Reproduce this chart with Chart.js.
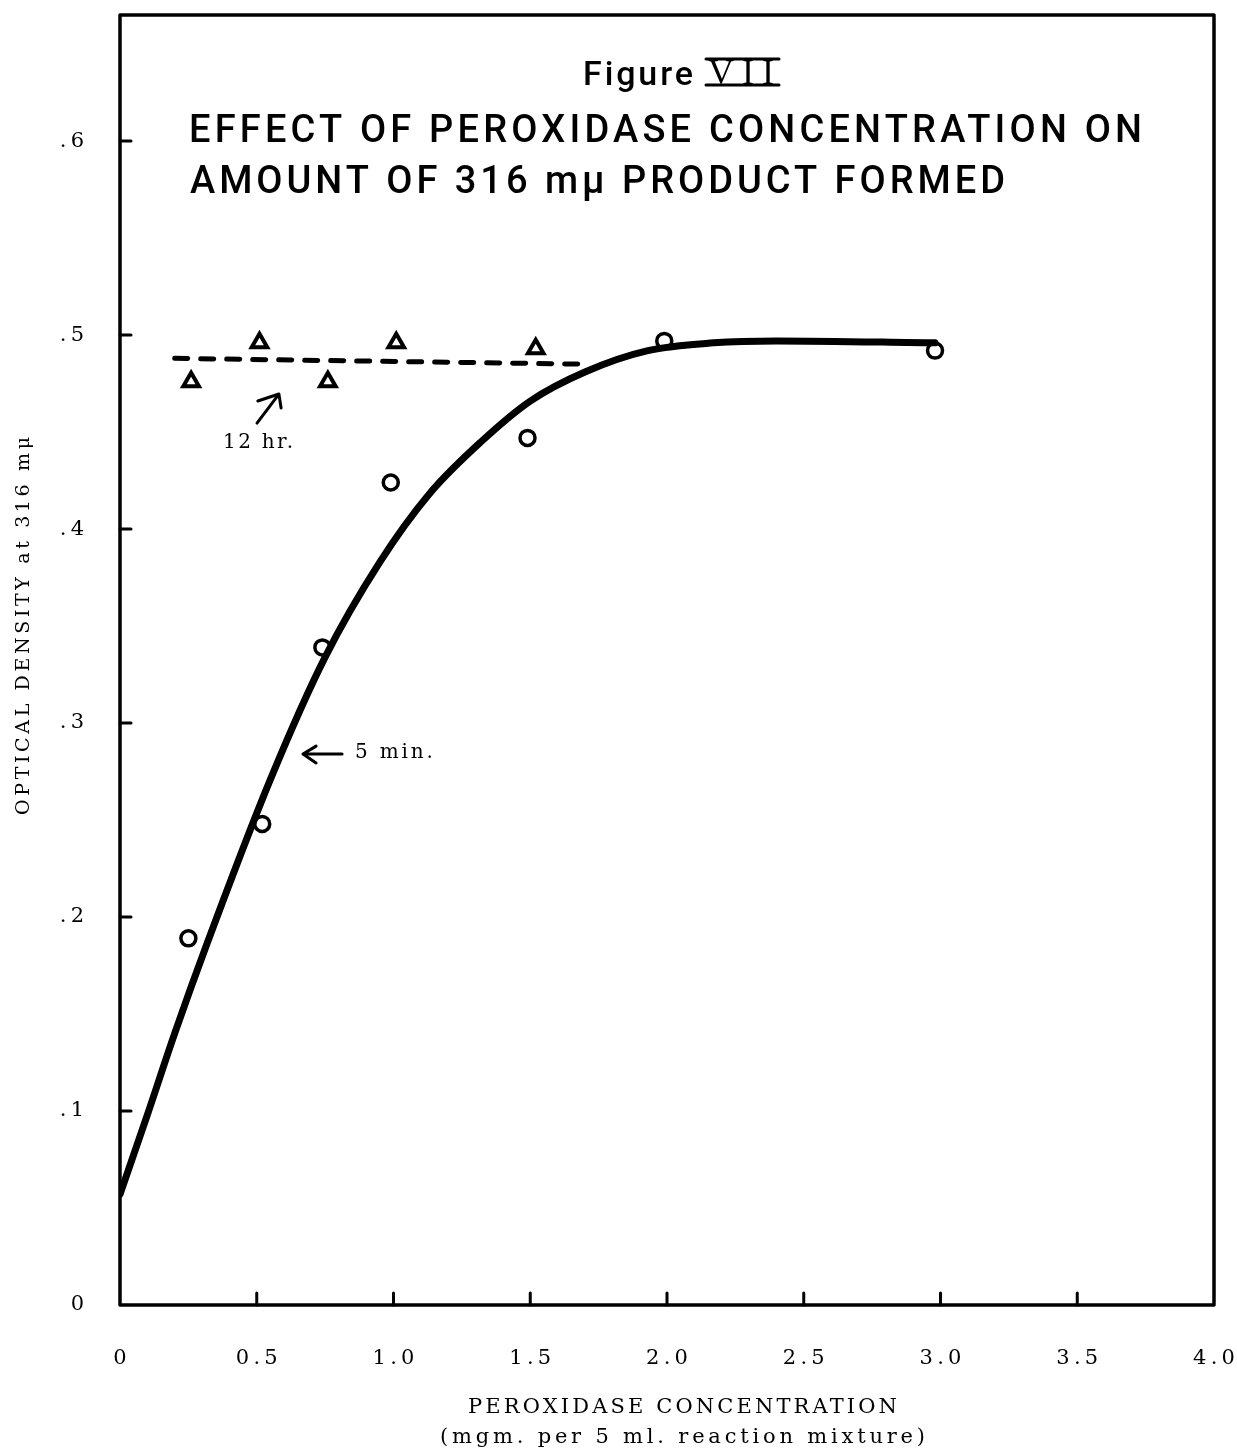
<!DOCTYPE html>
<html>
<head>
<meta charset="utf-8">
<script src="https://cdn.jsdelivr.net/npm/chart.js@4.4.0/dist/chart.umd.min.js"></script>
<style>
  html, body { margin: 0; background: #fff; }
</style>
</head>
<body>
<canvas id="fig" width="1237" height="1451"></canvas>
<script>
// axis ticks
const xTicks = [0, 0.5, 1, 1.5, 2, 2.5, 3, 3.5, 4];
const yTicks = [0, 0.1, 0.2, 0.3, 0.4, 0.5, 0.6];

// 5 min. curve (hand drawn)
const curveX = [0, 0.1, 0.2, 0.32, 0.55, 0.75, 0.95, 1.13, 1.32, 1.5, 1.7, 1.93, 2.17, 2.4, 2.98];
const curveY = [0.057, 0.098, 0.14, 0.187, 0.271, 0.334, 0.383, 0.418, 0.445, 0.466, 0.481, 0.492, 0.496, 0.497, 0.496];

// 5 min. measurements (circles)
const circleX = [0.25, 0.52, 0.74, 0.99, 1.49, 1.99, 2.98];
const circleY = [0.189, 0.248, 0.339, 0.424, 0.447, 0.497, 0.492];

// 12 hr. measurements (triangles) and their dashed line
const triX = [0.26, 0.51, 0.76, 1.01, 1.52];
const triY = [0.476, 0.496, 0.476, 0.496, 0.493];
const dashX = [0.2, 1.7];
const dashY = [0.488, 0.485];

const zip = (xs, ys) => xs.map((x, i) => ({ x, y: ys[i] }));

function fitText(ctx, text, x, y, width) {
  ctx.letterSpacing = '0px';
  const w = ctx.measureText(text).width;
  const n = [...text].length;
  ctx.letterSpacing = ((width - w) / (n - 1)) + 'px';
  ctx.fillText(text, x, y);
  ctx.letterSpacing = '0px';
}

function arrow(ctx, pts) {
  // tail, tip, wing, wing
  ctx.beginPath();
  ctx.moveTo(pts[0][0], pts[0][1]);
  ctx.lineTo(pts[1][0], pts[1][1]);
  ctx.moveTo(pts[2][0], pts[2][1]);
  ctx.lineTo(pts[1][0], pts[1][1]);
  ctx.lineTo(pts[3][0], pts[3][1]);
  ctx.stroke();
}

const paperPlugin = {
  id: 'paper',
  afterDraw(chart) {
    const { ctx, chartArea: a, scales } = chart;
    const px = (x, y) => [scales.x.getPixelForValue(x), scales.y.getPixelForValue(y)];
    ctx.save();
    ctx.strokeStyle = '#000';
    ctx.fillStyle = '#000';
    ctx.lineCap = 'round';
    ctx.lineJoin = 'round';

    // frame
    ctx.lineWidth = 3.5;
    ctx.strokeRect(a.left, a.top, a.right - a.left, a.bottom - a.top);

    // inward tick marks
    ctx.lineWidth = 3;
    ctx.beginPath();
    xTicks.slice(1, -1).forEach((v) => {
      const p = scales.x.getPixelForValue(v);
      ctx.moveTo(p, a.bottom);
      ctx.lineTo(p, a.bottom - 12);
    });
    yTicks.slice(1).forEach((v) => {
      const p = scales.y.getPixelForValue(v);
      ctx.moveTo(a.left, p);
      ctx.lineTo(a.left + 11, p);
    });
    ctx.stroke();

    // titles (lettering)
    ctx.textAlign = 'left';
    ctx.textBaseline = 'alphabetic';
    ctx.font = '500 34px Roboto';
    fitText(ctx, 'Figure', 583, 85, 110);
    ctx.font = '36px "Liberation Serif"';
    fitText(ctx, 'VII', 708, 84, 66);
    ctx.lineWidth = 3;
    ctx.beginPath();
    ctx.moveTo(706, 59); ctx.lineTo(779, 59);
    ctx.moveTo(706, 85); ctx.lineTo(779, 85);
    ctx.stroke();

    ctx.font = '500 38px Roboto';
    fitText(ctx, 'EFFECT OF PEROXIDASE CONCENTRATION ON', 189, 142, 953);
    fitText(ctx, 'AMOUNT OF 316 m\u03bc PRODUCT FORMED', 190, 193, 815);

    // annotations
    ctx.font = '20px "DejaVu Serif"';
    let p = px(0.377, 0.4418);
    fitText(ctx, '12 hr.', p[0], p[1], 70);
    ctx.lineWidth = 3;
    arrow(ctx, [px(0.501, 0.4546), px(0.581, 0.4696), px(0.504, 0.466), px(0.589, 0.4624)]);
    p = px(0.859, 0.282);
    fitText(ctx, '5 min.', p[0], p[1], 78);
    arrow(ctx, [px(0.812, 0.284), px(0.669, 0.284), px(0.717, 0.2881), px(0.717, 0.2794)]);

    // axis titles
    ctx.font = '21px "DejaVu Serif"';
    fitText(ctx, 'PEROXIDASE CONCENTRATION', 468, 1413, 429);
    fitText(ctx, '(mgm. per 5 ml. reaction mixture)', 440, 1443, 485);

    ctx.save();
    ctx.translate(29, 815);
    ctx.rotate(-Math.PI / 2);
    ctx.font = '19px "DejaVu Serif"';
    fitText(ctx, 'OPTICAL DENSITY at 316 m\u03bc', 0, 0, 378);
    ctx.restore();

    ctx.restore();
  },
};

new Chart(document.getElementById('fig'), {
  type: 'scatter',
  data: {
    datasets: [
      {
        label: '5 min. curve',
        data: zip(curveX, curveY),
        showLine: true,
        borderColor: '#000',
        borderWidth: 7,
        cubicInterpolationMode: 'monotone',
        pointRadius: 0,
        borderCapStyle: 'round',
      },
      {
        label: '12 hr. line',
        data: zip(dashX, dashY),
        showLine: true,
        borderColor: '#000',
        borderWidth: 5,
        borderDash: [13, 13],
        borderCapStyle: 'round',
        pointRadius: 0,
      },
      {
        label: '5 min.',
        data: zip(circleX, circleY),
        pointStyle: 'circle',
        pointRadius: 7.5,
        pointBorderWidth: 3.5,
        pointBorderColor: '#000',
        pointBackgroundColor: 'rgba(255,255,255,0)',
      },
      {
        label: '12 hr.',
        data: zip(triX, triY),
        pointStyle: 'triangle',
        pointRadius: 9,
        pointBorderWidth: 4,
        pointBorderColor: '#000',
        pointBackgroundColor: 'rgba(255,255,255,0)',
      },
    ],
  },
  options: {
    responsive: false,
    animation: false,
    layout: { padding: { top: 15, right: 23, left: 0, bottom: 0 } },
    plugins: { legend: { display: false }, tooltip: { enabled: false } },
    scales: {
      x: {
        type: 'linear',
        min: 0,
        max: 4,
        afterBuildTicks: (s) => { s.ticks = xTicks.map((value) => ({ value })); },
        afterFit: (s) => { s.height = 146; s.paddingLeft = 0; s.paddingRight = 0; },
        grid: { display: false, drawTicks: false },
        border: { display: false },
        ticks: {
          padding: 41,
          color: '#000',
          font: { family: '"DejaVu Serif"', size: 21 },
          maxRotation: 0,
          callback: (v) => (v === 0 ? '0' : v.toFixed(1).split('').join('\u2009')),
        },
      },
      y: {
        type: 'linear',
        min: 0,
        max: 0.665,
        afterBuildTicks: (s) => { s.ticks = yTicks.map((value) => ({ value })); },
        afterFit: (s) => { s.width = 120; s.paddingTop = 0; s.paddingBottom = 0; },
        grid: { display: false, drawTicks: false },
        border: { display: false },
        ticks: {
          padding: 36,
          color: '#000',
          font: { family: '"DejaVu Serif"', size: 21 },
          callback: (v) => (v === 0 ? '0' : '.\u2009' + Math.round(v * 10)),
        },
      },
    },
  },
  plugins: [paperPlugin],
});
</script>
</body>
</html>
